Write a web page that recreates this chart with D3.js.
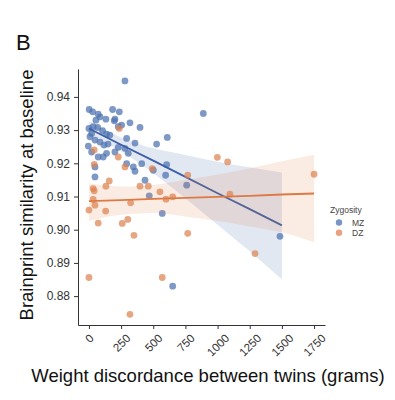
<!DOCTYPE html>
<html>
<head>
<meta charset="utf-8">
<script src="https://cdn.jsdelivr.net/npm/d3@7"></script>
<style>
  body { margin: 0; background: #fff; }
  svg { display: block; }
</style>
</head>
<body>
<div id="chart"></div>
<script>
let font = "Liberation Sans, Arial, sans-serif"

// MZ twins: weight discordance (g), brainprint similarity
let mzX = [280, 2, 29, 72, 86, 132, 184, 236, 202, 197, 319, 397, 228, 254, 0, 33, 68, 8, 106, 137,
    163, 293, 358, 526, 609, -5, 21, 72, 111, 137, 202, 228, 280, 306, 293, 345, 358, 410, 436, 500,
    604, 596, 760, 47, 47, 469, 570, 651, 889, 1485, 47, 86, 54, 117, 148, 21];
let mzY = [0.9448, 0.9362, 0.9355, 0.9348, 0.9340, 0.9333, 0.9362, 0.9355, 0.9333, 0.9328, 0.9322, 0.9308, 0.9310, 0.9315, 0.9305, 0.9310, 0.9308, 0.9280, 0.9298, 0.9288,
    0.9285, 0.9275, 0.9261, 0.9258, 0.9278, 0.9252, 0.9234, 0.9219, 0.9219, 0.9230, 0.9234, 0.9248, 0.9245, 0.9230, 0.9199, 0.9189, 0.9176, 0.9199, 0.9149, 0.9179,
    0.9196, 0.9164, 0.9134, 0.9189, 0.9159, 0.9102, 0.9049, 0.8830, 0.9350, 0.8980, 0.9270, 0.9264, 0.9330, 0.9255, 0.9258, 0.9290];

// DZ twins
let dzX = [41, 41, 236, 280, 228, 492, 768, 33, 41, 132, 158, 397, 461, 552, 651, 599, 0, 47, 72, 130,
    259, 302, 350, 324, 768, 0, 570, 319, 1096, 998, 1078, 1750, 1291, 33];
let dzY = [0.9240, 0.9197, 0.9305, 0.9189, 0.9219, 0.9184, 0.9164, 0.9124, 0.9117, 0.9131, 0.9147, 0.9131, 0.9131, 0.9114, 0.9099, 0.9092, 0.9059, 0.9074, 0.9020, 0.9056,
    0.9019, 0.9031, 0.8983, 0.9081, 0.8989, 0.8856, 0.8856, 0.8745, 0.9107, 0.9218, 0.9204, 0.9167, 0.8928, 0.9091];

// regression lines and confidence bands
let mzBandX = [0, 250, 500, 750, 1000, 1250, 1500];
let mzFit = [0.9305, 0.9256, 0.9208, 0.9159, 0.9110, 0.9062, 0.9013];
let mzHi = [0.9326, 0.9278, 0.9245, 0.9225, 0.9205, 0.9188, 0.9172];
let mzLo = [0.9285, 0.9236, 0.9170, 0.9095, 0.9015, 0.8935, 0.8850];

let dzBandX = [0, 250, 500, 750, 1000, 1250, 1500, 1750];
let dzFit = [0.9086, 0.9089, 0.9093, 0.9096, 0.9099, 0.9102, 0.9106, 0.9109];
let dzHi = [0.9140, 0.9130, 0.9135, 0.9150, 0.9166, 0.9185, 0.9206, 0.9226];
let dzLo = [0.9026, 0.9045, 0.9050, 0.9040, 0.9026, 0.9010, 0.8992, 0.8962];

let xTicks = [0, 250, 500, 750, 1000, 1250, 1500, 1750];
let yTicks = [0.88, 0.89, 0.90, 0.91, 0.92, 0.93, 0.94];
let gruppen = ["MZ", "DZ"];
let farben = { MZ: "#4c72b0", DZ: "#dd8452" };

let svg = d3.select("#chart").append("svg")
    .attr("width", 395)
    .attr("height", 400);

let x = d3.scaleLinear().domain([-85, 1835]).range([78, 325]);
let y = d3.scaleLinear().domain([0.8713, 0.9484]).range([325, 69]);

function zip(xs, ys) {
    return xs.map(function (d, i) { return { x: d, y: ys[i] }; });
}

function zeichneBand(xs, lo, hi, farbe) {
    let daten = xs.map(function (d, i) { return { x: d, lo: lo[i], hi: hi[i] }; });
    let area = d3.area()
        .x(function (d) { return x(d.x); })
        .y0(function (d) { return y(d.lo); })
        .y1(function (d) { return y(d.hi); })
        .curve(d3.curveMonotoneX);
    svg.append("path").datum(daten)
        .attr("d", area)
        .attr("fill", farbe)
        .attr("fill-opacity", 0.16);
}

function zeichnePunkte(daten, farbe) {
    svg.append("g").selectAll("circle").data(daten)
        .enter().append("circle")
        .attr("cx", function (d) { return x(d.x); })
        .attr("cy", function (d) { return y(d.y); })
        .attr("r", 3.4)
        .attr("fill", farbe)
        .attr("fill-opacity", 0.72);
}

function zeichneLinie(xs, ys, farbe) {
    let line = d3.line()
        .x(function (d) { return x(d.x); })
        .y(function (d) { return y(d.y); });
    svg.append("path").datum(zip(xs, ys))
        .attr("d", line)
        .attr("fill", "none")
        .attr("stroke", farbe)
        .attr("stroke-width", 1.8);
}

// scatter first, then bands and lines on top (like seaborn regplot)
zeichnePunkte(zip(mzX, mzY), farben.MZ);
zeichneBand(mzBandX, mzLo, mzHi, farben.MZ);
zeichneLinie(mzBandX, mzFit, "#3b5fa6");

zeichnePunkte(zip(dzX, dzY), farben.DZ);
zeichneBand(dzBandX, dzLo, dzHi, farben.DZ);
zeichneLinie(dzBandX, dzFit, "#dd7a43");

// axes
let yAxis = svg.append("g")
    .attr("transform", "translate(78,0)")
    .call(d3.axisLeft(y).tickValues(yTicks).tickFormat(d3.format(".2f")).tickSize(4).tickSizeOuter(0).tickPadding(4));
yAxis.selectAll("text").attr("font-family", font).attr("font-size", "12px").attr("fill", "#333");

let xAxis = svg.append("g")
    .attr("transform", "translate(0,325)")
    .call(d3.axisBottom(x).tickValues(xTicks).tickSize(4).tickSizeOuter(0).tickFormat(d3.format("d")));
xAxis.selectAll("text")
    .attr("font-family", font).attr("font-size", "11.5px").attr("fill", "#333")
    .attr("y", 0).attr("dy", null)
    .attr("text-anchor", "middle")
    .attr("dominant-baseline", "central")
    .attr("transform", function () {
        let l = this.getComputedTextLength();
        let e = 0.707 * (l + 9);
        return "translate(0," + (8 + e / 2) + ") rotate(-45)";
    });

[yAxis, xAxis].forEach(function (a) {
    a.selectAll("path, line").attr("stroke", "#333").attr("stroke-width", 1);
});

// labels
svg.append("text")
    .attr("transform", "translate(33,195) rotate(-90)")
    .attr("text-anchor", "middle")
    .attr("font-family", font)
    .attr("font-size", "18.5px")
    .attr("fill", "#111")
    .text("Brainprint similarity at baseline");

svg.append("text")
    .attr("x", 208).attr("y", 382)
    .attr("text-anchor", "middle")
    .attr("font-family", font)
    .attr("font-size", "18.5px")
    .attr("fill", "#111")
    .text("Weight discordance between twins (grams)");

svg.append("text")
    .attr("x", 16).attr("y", 50)
    .attr("font-family", font)
    .attr("font-size", "22px")
    .attr("fill", "#111")
    .text("B");

// legend
let legende = svg.append("g").attr("transform", "translate(330,0)");
legende.append("text")
    .attr("x", 0).attr("y", 213)
    .attr("font-family", font).attr("font-size", "8.5px").attr("fill", "#444")
    .text("Zygosity");
let eintrag = legende.selectAll(".eintrag").data(gruppen)
    .enter().append("g")
    .attr("class", "eintrag")
    .attr("transform", function (d, i) { return "translate(0," + (222.5 + i * 10.3) + ")"; });
eintrag.append("circle")
    .attr("cx", 9).attr("cy", 0).attr("r", 3.2)
    .attr("fill", function (d) { return farben[d]; })
    .attr("fill-opacity", 0.75);
eintrag.append("text")
    .attr("x", 22).attr("y", 3)
    .attr("font-family", font).attr("font-size", "8.5px").attr("fill", "#444")
    .text(function (d) { return d; });
</script>
</body>
</html>
